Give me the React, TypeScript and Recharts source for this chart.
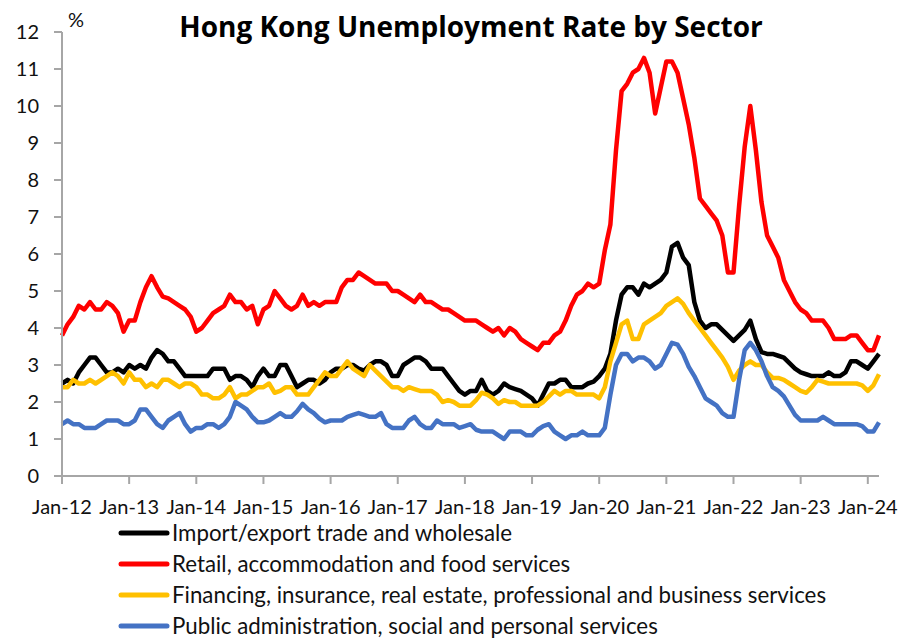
import { LineChart, Line, XAxis, YAxis, Legend } from "recharts";

const monthNames = ["Jan", "Feb", "Mar", "Apr", "May", "Jun", "Jul", "Aug", "Sep", "Oct", "Nov", "Dec"];
const years = ["12", "13", "14", "15", "16", "17", "18", "19", "20", "21", "22", "23", "24"];

const months: string[] = [];
years.forEach((y) => monthNames.forEach((m) => months.push(`${m}-${y}`)));
months.splice(147); // data ends Mar-24

const xTicks = years.map((y) => `Jan-${y}`);
const yTicks = [0, 1, 2, 3, 4, 5, 6, 7, 8, 9, 10, 11, 12];

// Import/export trade and wholesale
const importExport = [
  2.5, 2.6, 2.5, 2.8, 3.0, 3.2, 3.2, 3.0, 2.8, 2.8, 2.9, 2.8,
  3.0, 2.9, 3.0, 2.9, 3.2, 3.4, 3.3, 3.1, 3.1, 2.9, 2.7, 2.7,
  2.7, 2.7, 2.7, 2.9, 2.9, 2.9, 2.6, 2.7, 2.7, 2.6, 2.4, 2.7,
  2.9, 2.7, 2.7, 3.0, 3.0, 2.7, 2.4, 2.5, 2.6, 2.6, 2.5, 2.6,
  2.8, 2.9, 2.9, 3.0, 3.0, 2.9, 2.85, 3.0, 3.1, 3.1, 3.0, 2.7,
  2.7, 3.0, 3.1, 3.2, 3.2, 3.1, 2.9, 2.9, 2.9, 2.7, 2.5, 2.3,
  2.2, 2.3, 2.3, 2.6, 2.3, 2.2, 2.3, 2.5, 2.4, 2.35, 2.3, 2.2,
  2.1, 1.9, 2.2, 2.5, 2.5, 2.6, 2.6, 2.4, 2.4, 2.4, 2.5, 2.55,
  2.7, 2.9, 3.3, 4.2, 4.9, 5.1, 5.1, 4.9, 5.2, 5.1, 5.2, 5.3,
  5.5, 6.2, 6.3, 5.9, 5.7, 4.7, 4.2, 4.0, 4.1, 4.1, 3.95, 3.8,
  3.65, 3.8, 3.95, 4.2, 3.7, 3.35, 3.3, 3.3, 3.25, 3.2, 3.05, 2.9,
  2.8, 2.75, 2.7, 2.7, 2.7, 2.8, 2.7, 2.7, 2.8, 3.1, 3.1, 3.0,
  2.9, 3.1, 3.3,
];

// Retail, accommodation and food services
const retail = [
  3.8, 4.1, 4.3, 4.6, 4.5, 4.7, 4.5, 4.5, 4.7, 4.6, 4.4, 3.9,
  4.2, 4.2, 4.7, 5.1, 5.4, 5.1, 4.85, 4.8, 4.7, 4.6, 4.5, 4.3,
  3.9, 4.0, 4.2, 4.4, 4.5, 4.6, 4.9, 4.7, 4.7, 4.5, 4.6, 4.1,
  4.5, 4.6, 5.0, 4.8, 4.6, 4.5, 4.6, 4.9, 4.6, 4.7, 4.6, 4.7,
  4.7, 4.7, 5.1, 5.3, 5.3, 5.5, 5.4, 5.3, 5.2, 5.2, 5.2, 5.0,
  5.0, 4.9, 4.8, 4.7, 4.9, 4.7, 4.7, 4.6, 4.5, 4.5, 4.4, 4.3,
  4.2, 4.2, 4.2, 4.1, 4.0, 3.9, 4.0, 3.8, 4.0, 3.9, 3.7, 3.6,
  3.5, 3.4, 3.6, 3.6, 3.8, 3.9, 4.2, 4.6, 4.9, 5.0, 5.2, 5.1,
  5.2, 6.1, 6.8, 8.8, 10.4, 10.6, 10.9, 11.0, 11.3, 10.9, 9.8, 10.5,
  11.2, 11.2, 10.9, 10.2, 9.5, 8.6, 7.5, 7.3, 7.1, 6.9, 6.5, 5.5,
  5.5, 7.3, 8.9, 10.0, 8.8, 7.4, 6.5, 6.2, 5.9, 5.3, 5.0, 4.7,
  4.5, 4.4, 4.2, 4.2, 4.2, 4.0, 3.7, 3.7, 3.7, 3.8, 3.8, 3.6,
  3.4, 3.4, 3.8,
];

// Financing, insurance, real estate, professional and business services
const financing = [
  2.4, 2.4, 2.6, 2.5, 2.5, 2.6, 2.5, 2.6, 2.7, 2.8, 2.7, 2.5,
  2.8, 2.6, 2.6, 2.4, 2.5, 2.4, 2.6, 2.6, 2.5, 2.4, 2.5, 2.5,
  2.4, 2.2, 2.2, 2.1, 2.1, 2.2, 2.4, 2.1, 2.2, 2.2, 2.3, 2.4,
  2.4, 2.5, 2.25, 2.3, 2.4, 2.4, 2.2, 2.2, 2.2, 2.4, 2.6, 2.8,
  2.7, 2.7, 2.9, 3.1, 2.9, 2.8, 2.7, 3.0, 2.85, 2.7, 2.55, 2.4,
  2.4, 2.3, 2.4, 2.35, 2.3, 2.3, 2.3, 2.2, 2.0, 2.05, 2.0, 1.9,
  1.9, 1.9, 2.05, 2.25, 2.2, 2.1, 1.95, 2.05, 2.0, 2.0, 1.9, 1.9,
  1.9, 1.9, 2.0, 2.15, 2.3, 2.2, 2.3, 2.3, 2.2, 2.2, 2.2, 2.2,
  2.1, 2.4, 3.1, 3.6, 4.1, 4.2, 3.7, 3.7, 4.1, 4.2, 4.3, 4.4,
  4.6, 4.7, 4.8, 4.65, 4.4, 4.2, 4.0, 3.8, 3.6, 3.4, 3.2, 2.95,
  2.6, 2.85, 3.0, 3.1, 3.0, 3.0, 2.8, 2.65, 2.65, 2.6, 2.5, 2.4,
  2.3, 2.25, 2.4, 2.6, 2.55, 2.5, 2.5, 2.5, 2.5, 2.5, 2.5, 2.45,
  2.3, 2.45, 2.75,
];

// Public administration, social and personal services
const publicAdmin = [
  1.4, 1.5, 1.4, 1.4, 1.3, 1.3, 1.3, 1.4, 1.5, 1.5, 1.5, 1.4,
  1.4, 1.5, 1.8, 1.8, 1.6, 1.4, 1.3, 1.5, 1.6, 1.7, 1.4, 1.2,
  1.3, 1.3, 1.4, 1.4, 1.3, 1.4, 1.6, 2.0, 1.9, 1.8, 1.6, 1.45,
  1.45, 1.5, 1.6, 1.7, 1.6, 1.6, 1.75, 1.95, 1.8, 1.7, 1.55, 1.45,
  1.5, 1.5, 1.5, 1.6, 1.65, 1.7, 1.65, 1.6, 1.6, 1.7, 1.4, 1.3,
  1.3, 1.3, 1.5, 1.6, 1.4, 1.3, 1.3, 1.5, 1.4, 1.4, 1.4, 1.3,
  1.35, 1.4, 1.25, 1.2, 1.2, 1.2, 1.1, 1.0, 1.2, 1.2, 1.2, 1.1,
  1.1, 1.25, 1.35, 1.4, 1.2, 1.1, 1.0, 1.1, 1.1, 1.2, 1.1, 1.1,
  1.1, 1.3, 2.2, 3.0, 3.3, 3.3, 3.1, 3.2, 3.2, 3.1, 2.9, 3.0,
  3.3, 3.6, 3.55, 3.3, 2.95, 2.7, 2.4, 2.1, 2.0, 1.9, 1.7, 1.6,
  1.6, 2.6, 3.4, 3.6, 3.4, 3.1, 2.7, 2.4, 2.3, 2.15, 1.9, 1.65,
  1.5, 1.5, 1.5, 1.5, 1.6, 1.5, 1.4, 1.4, 1.4, 1.4, 1.4, 1.35,
  1.2, 1.2, 1.45,
];

const series = [
  { key: "importExport", name: "Import/export trade and wholesale", color: "#000000" },
  { key: "retail", name: "Retail, accommodation and food services", color: "#FF0000" },
  { key: "financing", name: "Financing, insurance, real estate, professional and business services", color: "#FFC000" },
  { key: "publicAdmin", name: "Public administration, social and personal services", color: "#4472C4" },
];

const data = months.map((month, i) => ({
  month,
  importExport: importExport[i],
  retail: retail[i],
  financing: financing[i],
  publicAdmin: publicAdmin[i],
}));

const FONT = "Lato, 'DejaVu Sans', sans-serif";
const AXIS = "#a6a6a6";

const renderLegend = () => (
  <div style={{ height: 128, paddingLeft: 118, fontFamily: FONT, fontSize: 22.3, color: "#111" }}>
    {series.map((s) => (
      <div key={s.key} style={{ height: 31, display: "flex", alignItems: "center", whiteSpace: "nowrap" }}>
        <svg width={54} height={10} style={{ flex: "none" }}>
          <line x1={3} y1={5} x2={49} y2={5} stroke={s.color} strokeWidth={5} strokeLinecap="round" />
        </svg>
        <span>{s.name}</span>
      </div>
    ))}
  </div>
);

const percentLabel = (props: any) => {
  const vb = props.viewBox;
  return (
    <text x={vb.x + vb.width + 6} y={vb.y - 5} fontFamily={FONT} fontSize={20} fill="#111">
      %
    </text>
  );
};

export default function App() {
  return (
    <div style={{ position: "absolute", left: 0, top: 0, width: 902, height: 639, background: "#fff" }}>
      <div
        style={{
          position: "absolute",
          left: 0,
          top: 10,
          width: 942,
          textAlign: "center",
          fontFamily: "'Open Sans', Lato, sans-serif",
          fontWeight: 700,
          fontSize: 28,
          lineHeight: "32px",
          color: "#000",
        }}
      >
        Hong Kong Unemployment Rate by Sector
      </div>
      <LineChart width={902} height={639} data={data} margin={{ top: 32, right: 23, left: 12, bottom: 0 }}>
        <XAxis
          dataKey="month"
          ticks={xTicks}
          interval={0}
          tickSize={8}
          tickMargin={16}
          height={35}
          stroke={AXIS}
          strokeWidth={2}
          tick={{ fill: "#111", fontSize: 20, fontFamily: FONT }}
        />
        <YAxis
          domain={[0, 12]}
          ticks={yTicks}
          interval={0}
          width={50}
          tickSize={8}
          tickMargin={15}
          stroke={AXIS}
          strokeWidth={2}
          tick={{ fill: "#111", fontSize: 20, fontFamily: FONT }}
          label={percentLabel}
        />
        <Legend
          verticalAlign="bottom"
          align="left"
          layout="horizontal"
          content={renderLegend}
          wrapperStyle={{ left: 0, top: 517, width: 902 }}
        />
        {series.map((s) => (
          <Line
            key={s.key}
            type="linear"
            dataKey={s.key}
            name={s.name}
            stroke={s.color}
            strokeWidth={4.5}
            strokeLinejoin="round"
            dot={false}
            isAnimationActive={false}
          />
        ))}
      </LineChart>
    </div>
  );
}
